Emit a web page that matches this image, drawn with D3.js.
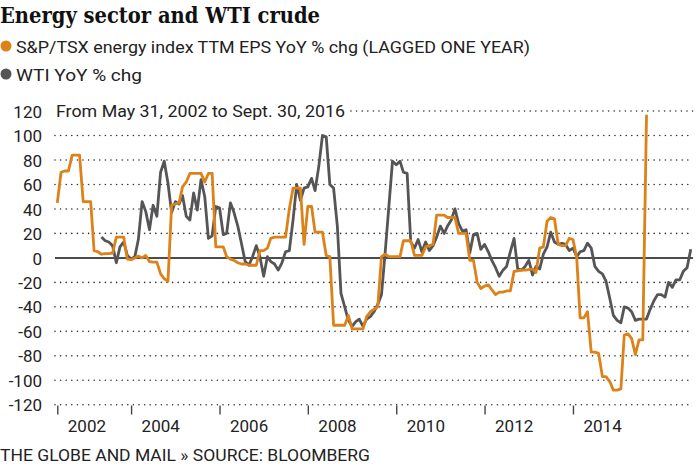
<!DOCTYPE html>
<html>
<head>
<meta charset="utf-8">
<script src="https://cdn.jsdelivr.net/npm/d3@7"></script>
<style>
  html, body { margin: 0; padding: 0; background: #fff; }
  svg { display: block; }
  .sans { font-family: Roboto, "Noto Sans", sans-serif; }
</style>
</head>
<body>
<svg id="chart" width="698" height="467"></svg>
<script>
// ---------- DATA ----------
const titleText = "Energy sector and WTI crude";
const seriesNames = ["S&P/TSX energy index TTM EPS YoY % chg (LAGGED ONE YEAR)", "WTI YoY % chg"];
const subtitleText = "From May 31, 2002 to Sept. 30, 2016";
const sourceText = "THE GLOBE AND MAIL \u00bb SOURCE: BLOOMBERG";

// monthly observations; first month of each series
const orangeStart = [2002, 4];   // May 2002
const grayStart = [2003, 4];     // May 2003

const orangeValues = [
  45,70,71,71,84,84,84,46,46,46,
  6,5,3,3.5,3.5,4,17,17,17,-1,
  -1.5,0,1.5,0,2,-3,-3.5,-3.5,-13,-17,
  -19,43,44,45,58,62,69,69,69,69,
  62,69,69,9,9,9,1,-1,-2,-4,
  -5,-5,-6,-6,-6,6,6,8,16,17,
  17,17,17,40,57,57,57,11,42,42,
  21,21,21,2,1,-55,-55,-55,-55,-47,
  -58,-58,-58,-58,-48,-44,-42,-40,1,3,
  1,1,1,1,14,14,14,2,2,2,
  9,10,11,35,35,35,33,33,33,20,
  20,20,-2,-2,-20,-25,-23,-22,-26,-30,
  -28,-28,-27,-27,-11,-10.5,-10,-10,-9.5,-9,
  -12,8,9,30,33,32,11,10,10,16,
  15,0,-49,-49,-44,-77,-77,-78,-97,-97,
  -101,-108,-108,-107,-63,-62,-66,-79,-67,-67,
  117
];

const grayValues = [
  17,14,13,10,-4,9,13,2,-1,1,
  15,46,38,23,43,34,70,79,61,37,
  46,44,51,34,31,53,39,64,50,16,
  18,42,41,19,20,45,37,26,12,-3,
  -6,1,10,1,-15,1,-3,-5,-10,-4,
  5,6,31,60,47,57,58,65,55,75,
  100,99,60,57,26,-29,-40,-51,-56,-52,
  -50,-56,-50,-48,-44,-38,-30,4,42,79,
  76,79,70,69,13,8,15,5,13,6,
  10,17,26,20,26,31,40,28,22,23,
  4,19,20,7,11,5,-2,-8,-15,-10,
  -7,5,16,-9,-10,-7,-2,-14,-7,-9,
  3,9,21,13,11,12,11,6,8,1,
  5,6,12,8,-7,-11,-13,-19,-33,-47,
  -51,-53,-40,-41,-44,-51,-50,-50,-50,-42,
  -35,-30,-30,-32,-20,-24,-18,-18,-11,-8,
  7
];

const yTicks = [120,100,80,60,40,20,0,-20,-40,-60,-80,-100,-120];
const yearTicks = [2002,2004,2006,2008,2010,2012,2014];
const xDomainStart = [2002, 4];  // May 2002
const xDomainEnd = [2016, 8];    // Sept 2016

const colors = { orange: "#dc8218", gray: "#555557" };

// ---------- CHART ----------
const svg = d3.select("#chart");

const x = d3.scaleTime()
  .domain([new Date(xDomainStart[0], xDomainStart[1], 1), new Date(xDomainEnd[0], xDomainEnd[1], 1)])
  .range([57.3, 690.8]);
const y = d3.scaleLinear().domain([-120, 120]).range([404.8, 111]);

function toPoints(start, values) {
  const s = new Date(start[0], start[1], 1);
  return values.map((v, i) => ({ date: d3.timeMonth.offset(s, i), value: v }));
}
const orangeData = toPoints(orangeStart, orangeValues);
const grayData = toPoints(grayStart, grayValues);

const gridLeft = 55, gridRight = 693;

// title
svg.append("text")
  .attr("x", 0).attr("y", 23)
  .attr("font-family", "'DejaVu Serif Condensed', 'DejaVu Serif', serif")
  .attr("font-weight", "bold")
  .attr("font-size", 22)
  .attr("fill", "#111")
  .attr("textLength", 320)
  .attr("lengthAdjust", "spacingAndGlyphs")
  .text(titleText);

// legend
const legendRows = [
  { name: seriesNames[0], color: colors.orange, cy: 46, len: 514 },
  { name: seriesNames[1], color: colors.gray, cy: 74, len: 126 }
];
legendRows.forEach(r => {
  svg.append("circle").attr("cx", 6).attr("cy", r.cy).attr("r", 5.5).attr("fill", r.color);
  svg.append("text").attr("class", "sans")
    .attr("x", 16).attr("y", r.cy + 6.5)
    .attr("font-size", 17).attr("fill", "#222")
    .attr("textLength", r.len).attr("lengthAdjust", "spacingAndGlyphs")
    .text(r.name);
});

// subtitle
svg.append("text").attr("class", "sans")
  .attr("x", 56).attr("y", 117)
  .attr("font-size", 17).attr("fill", "#222")
  .attr("textLength", 289).attr("lengthAdjust", "spacingAndGlyphs")
  .text(subtitleText);

// grid
const grid = svg.append("g");
yTicks.filter(t => t !== 0).forEach(t => {
  grid.append("line")
    .attr("x1", t === 120 ? 351 : gridLeft).attr("x2", gridRight)
    .attr("y1", y(t)).attr("y2", y(t))
    .attr("stroke", "#333").attr("stroke-width", 1.6)
    .attr("stroke-linecap", "round")
    .attr("stroke-dasharray", "0,5.6");
});

// y axis labels
const yAxis = svg.append("g").attr("transform", "translate(42,0)")
  .call(d3.axisLeft(y).tickValues(yTicks).tickSize(0).tickPadding(0).tickFormat(d => String(d)));
yAxis.select(".domain").remove();
yAxis.selectAll("text")
  .attr("class", "sans")
  .attr("font-size", 17).attr("fill", "#222")
  .attr("dy", "0.36em");

// x axis
const tickDates = yearTicks.map((yr, i) => i === 0 ? new Date(xDomainStart[0], xDomainStart[1], 1) : new Date(yr, 0, 1));
const xAxis = svg.append("g").attr("transform", "translate(0,405.5)")
  .call(d3.axisBottom(x).tickValues(tickDates).tickSize(9)
    .tickFormat((d, i) => String(yearTicks[i])));
xAxis.select(".domain").remove();
xAxis.selectAll(".tick line").attr("stroke", "#444").attr("stroke-width", 1.4);
xAxis.selectAll("text")
  .attr("class", "sans")
  .attr("font-size", 17).attr("fill", "#222")
  .attr("text-anchor", "start")
  .attr("x", 10).attr("y", 26).attr("dy", 0);

// zero line
svg.append("line")
  .attr("x1", gridLeft).attr("x2", gridRight)
  .attr("y1", y(0)).attr("y2", y(0))
  .attr("stroke", "#111").attr("stroke-width", 1.5);

// lines
const line = d3.line().x(d => x(d.date)).y(d => y(d.value)).curve(d3.curveLinear);
svg.append("path").datum(grayData)
  .attr("d", line).attr("fill", "none")
  .attr("stroke", colors.gray).attr("stroke-width", 2.8)
  .attr("stroke-linejoin", "round");
svg.append("path").datum(orangeData)
  .attr("d", line).attr("fill", "none")
  .attr("stroke", colors.orange).attr("stroke-width", 2.8)
  .attr("stroke-linejoin", "round");

// source
svg.append("text").attr("class", "sans")
  .attr("x", 0).attr("y", 461)
  .attr("font-size", 17).attr("fill", "#222")
  .attr("textLength", 370).attr("lengthAdjust", "spacingAndGlyphs")
  .text(sourceText);
</script>
</body>
</html>
